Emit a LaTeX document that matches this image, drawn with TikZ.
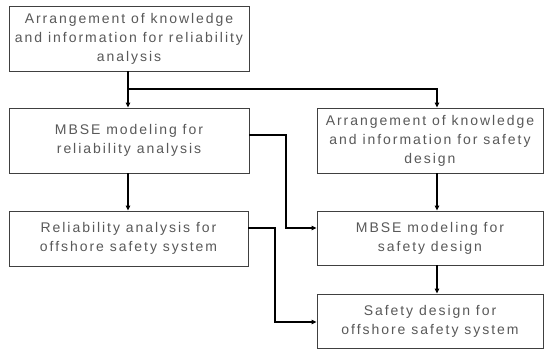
\documentclass[tikz,border=0pt]{standalone}
\usepackage{fontspec}
\setmainfont{Liberation Sans}[LetterSpace=14]
\usetikzlibrary{arrows.meta}
\begin{document}
\begin{tikzpicture}[x=1bp,y=-1bp,
  stagebox/.style={draw=black!75, line width=0.9bp, fill=white, inner sep=0pt,
    align=center, text=black!65, font=\fontsize{14bp}{19bp}\selectfont},
  flow/.style={line width=1.3bp, draw=black,
    -{Triangle[length=5bp,width=4.5bp]}}]
\useasboundingbox (0,0) rectangle (553,354);
% left column
\node[stagebox, minimum width=240bp, minimum height=65bp] (kra) at (129,38.5)
  {Arrangement of knowledge\\and information for reliability\\analysis};
\node[stagebox, minimum width=240bp, minimum height=65bp] (mra) at (129,140.5)
  {MBSE modeling for\\reliability analysis};
\node[stagebox, minimum width=239bp, minimum height=55bp] (rao) at (128.5,238.5)
  {Reliability analysis for\\offshore safety system};
% right column
\node[stagebox, minimum width=226bp, minimum height=65bp] (ksd) at (430,140.5)
  {Arrangement of knowledge\\and information for safety\\design};
\node[stagebox, minimum width=226bp, minimum height=54bp] (msd) at (430,238)
  {MBSE modeling for\\safety design};
\node[stagebox, minimum width=226bp, minimum height=54bp] (sdo) at (430,321)
  {Safety design for\\offshore safety system};
% bend points
\coordinate (split) at (128,89);
\coordinate (rcol) at (437,0);
\coordinate (mraout) at (249,135);
\coordinate (mrabend) at (286,135);
\coordinate (raoout) at (248,228);
\coordinate (raobend) at (275,228);
% connectors
\draw[flow] (kra.south -| split) -- (mra.north -| split);
\draw[flow] (split) -| (ksd.north -| rcol);
\draw[flow] (ksd.south -| rcol) -- (msd.north -| rcol);
\draw[flow] (msd.south -| rcol) -- (sdo.north -| rcol);
\draw[flow] (mra.south -| split) -- (rao.north -| split);
\draw[flow] (mraout) -- (mrabend) |- (msd.west |- raoout);
\draw[flow] (raoout) -- (raobend) |- (sdo.west |- 0,322);
\end{tikzpicture}
\end{document}
